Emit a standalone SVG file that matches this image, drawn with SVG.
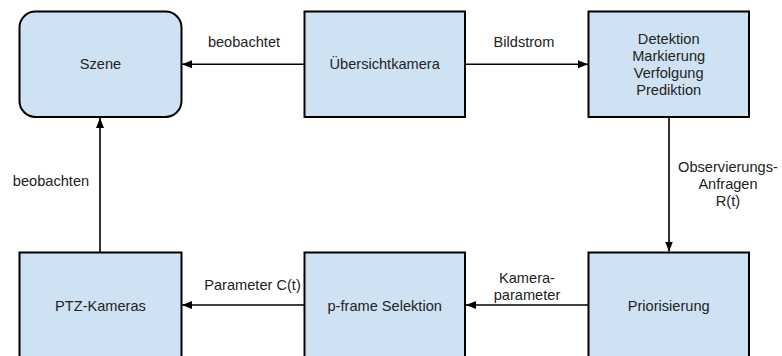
<svg xmlns="http://www.w3.org/2000/svg" width="782" height="356" viewBox="0 0 782 356">
  <defs>
    <marker id="arrow" markerUnits="userSpaceOnUse" markerWidth="11" markerHeight="9" refX="10" refY="4" orient="auto">
      <path d="M0,0 L10,4 L0,8 z" fill="#000"/>
    </marker>
    <style>
      .box { fill: #cfe2f3; stroke: #000; stroke-width: 2; }
      .lbl { font-family: "Liberation Sans", Arial, sans-serif; font-size: 14.6px; fill: #222; text-anchor: middle; }
      .edge { stroke: #000; stroke-width: 1.6; fill: none; marker-end: url(#arrow); }
    </style>
  </defs>
  <rect width="782" height="356" fill="#fff"/>

  <g id="szene">
    <rect class="box" x="19.5" y="11.5" width="162" height="105.5" rx="16" ry="16"/>
    <text class="lbl" x="100.5" y="69">Szene</text>
  </g>
  <g id="uebersichtkamera">
    <rect class="box" x="304.5" y="11.5" width="160.5" height="105.5"/>
    <text class="lbl" x="384.7" y="69">Übersichtkamera</text>
  </g>
  <g id="detektion">
    <rect class="box" x="588.5" y="11.5" width="160.5" height="105.5"/>
    <text class="lbl" x="668.7" y="44">Detektion</text>
    <text class="lbl" x="668.7" y="61">Markierung</text>
    <text class="lbl" x="668.7" y="78">Verfolgung</text>
    <text class="lbl" x="668.7" y="95">Prediktion</text>
  </g>
  <g id="ptz-kameras">
    <rect class="box" x="19.5" y="252.5" width="162" height="110"/>
    <text class="lbl" x="100.5" y="311">PTZ-Kameras</text>
  </g>
  <g id="p-frame-selektion">
    <rect class="box" x="304.5" y="252.5" width="160.5" height="110"/>
    <text class="lbl" x="384.7" y="311">p-frame Selektion</text>
  </g>
  <g id="priorisierung">
    <rect class="box" x="588.5" y="252.5" width="160.5" height="110"/>
    <text class="lbl" x="668.7" y="311">Priorisierung</text>
  </g>

  <g id="connectors">
    <line class="edge" x1="304" y1="64.3" x2="182" y2="64.3"/>
    <text class="lbl" x="244" y="47">beobachtet</text>

    <line class="edge" x1="465" y1="64.3" x2="588" y2="64.3"/>
    <text class="lbl" x="524" y="47">Bildstrom</text>

    <line class="edge" x1="669" y1="117" x2="669" y2="251.5"/>
    <text class="lbl" x="728" y="172">Observierungs-</text>
    <text class="lbl" x="728" y="189">Anfragen</text>
    <text class="lbl" x="728" y="206">R(t)</text>

    <line class="edge" x1="588" y1="305" x2="466" y2="305"/>
    <text class="lbl" x="527" y="283">Kamera-</text>
    <text class="lbl" x="527" y="300">parameter</text>

    <line class="edge" x1="304" y1="305" x2="182" y2="305"/>
    <text class="lbl" x="252.5" y="290">Parameter C(t)</text>

    <line class="edge" x1="100" y1="252" x2="100" y2="118"/>
    <text class="lbl" x="51" y="186">beobachten</text>
  </g>
</svg>
